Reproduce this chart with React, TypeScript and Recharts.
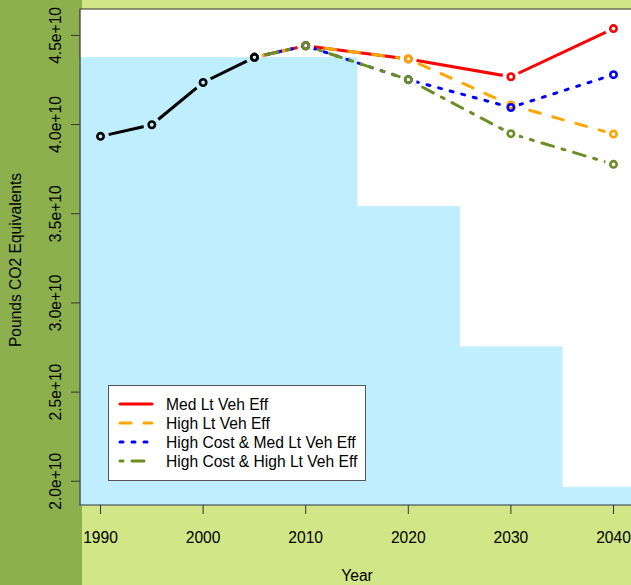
import React from 'react';
import {
  LineChart, Line, XAxis, YAxis, ReferenceArea, Legend, Customized,
} from 'recharts';

// ---------------- data ----------------
const years = [1990, 1995, 2000, 2005, 2010, 2020, 2030, 2040];
const historical = [3.934e10, 3.999e10, 4.236e10, 4.377e10, null, null, null, null];
const medLtVehEff = [null, null, null, 4.377e10, 4.442e10, 4.368e10, 4.268e10, 4.538e10];
const highLtVehEff = [null, null, null, 4.377e10, 4.442e10, 4.368e10, 4.11e10, 3.947e10];
const highCostMedLtVehEff = [null, null, null, 4.377e10, 4.442e10, 4.252e10, 4.096e10, 4.28e10];
const highCostHighLtVehEff = [null, null, null, 4.377e10, 4.442e10, 4.252e10, 3.949e10, 3.777e10];

// target steps (light blue)
const stepStart = [1988, 2015, 2025, 2035];
const stepEnd = [2015, 2025, 2035, 2042];
const stepLevel = [4.377e10, 3.541e10, 2.754e10, 1.967e10];

const xTicks = [1990, 2000, 2010, 2020, 2030, 2040];
const yTicks = [2.0e10, 2.5e10, 3.0e10, 3.5e10, 4.0e10, 4.5e10];
const X_DOMAIN: [number, number] = [1988, 2042];
const Y_DOMAIN: [number, number] = [1.867e10, 4.648e10];

const seriesNames = [
  'Med Lt Veh Eff',
  'High Lt Veh Eff',
  'High Cost & Med Lt Veh Eff',
  'High Cost & High Lt Veh Eff',
];
const seriesKeys = ['med', 'high', 'hcMed', 'hcHigh'];
const seriesColors = ['#FF0000', '#FFA500', '#0000FF', '#6B8E23'];
const seriesDash = [undefined, '11 13', '3 9', '3 9 12 9'];
const seriesValues = [medLtVehEff, highLtVehEff, highCostMedLtVehEff, highCostHighLtVehEff];

// ---------------- styling ----------------
const W = 631;
const H = 585;
const FONT = "'Liberation Sans', Arial, Helvetica, sans-serif";
const FS = 15.6;
const BG_LIGHT = '#d1e687';
const BG_DARK = '#8bb04d';
const PLOT_BLUE = '#BFEFFF';
const BORDER = '#333333';
const GAP_R = 8.5;

const data = years.map((year, i) => ({
  year,
  hist: historical[i],
  med: medLtVehEff[i],
  high: highLtVehEff[i],
  hcMed: highCostMedLtVehEff[i],
  hcHigh: highCostHighLtVehEff[i],
}));

const makeDot = (key: string, color: string) => (props: any) => {
  const { cx, cy, index, value } = props;
  if (cx == null || cy == null || value == null || isNaN(cx) || isNaN(cy)) {
    return <g key={`d-${key}-${index}`} />;
  }
  return (
    <g key={`d-${key}-${index}`}>
      <defs>
        <circle id={`gap-${key}-${index}`} cx={cx} cy={cy} r={GAP_R} fill="#000" />
      </defs>
      <circle cx={cx} cy={cy} r={3.2} fill="none" stroke={color} strokeWidth={2.6} />
    </g>
  );
};

const allKeys = [...seriesKeys, 'hist'];
const allValues = [...seriesValues, historical];

const Masks = () => (
  <defs>
    {allKeys.map((k, si) => (
      <mask key={k} id={`gm-${k}`} maskUnits="userSpaceOnUse" x={0} y={0} width={W} height={H}>
        <rect x={0} y={0} width={W} height={H} fill="#fff" />
        {allValues[si].map((v, i) => (v == null ? null : <use key={i} href={`#gap-${k}-${i}`} />))}
      </mask>
    ))}
  </defs>
);

const css = allKeys.map((k) => `.ser-${k} .recharts-line-curve { mask: url(#gm-${k}); }`).join('\n');

const XTick = (p: any) => (
  <text x={p.x} y={p.y} dy={27} textAnchor="middle" fontSize={FS} fontFamily={FONT} fill="#000">
    {p.payload.value}
  </text>
);

const YTick = (p: any) => {
  const x = p.x - 8;
  const label = (p.payload.value / 1e10).toFixed(1) + 'e+10';
  return (
    <text x={x} y={p.y} transform={`rotate(-90 ${x} ${p.y})`} textAnchor="middle" fontSize={FS} fontFamily={FONT} fill="#000">
      {label}
    </text>
  );
};

const LegendBox = () => {
  const rows = [19, 38, 57, 76];
  return (
    <svg width={258} height={96} style={{ display: 'block' }}>
      <rect x={0.5} y={0.5} width={257} height={95} fill="#fff" stroke="#555" strokeWidth={1} />
      {seriesNames.map((n, i) => (
        <g key={n}>
          <line x1={12} x2={44} y1={rows[i]} y2={rows[i]} stroke={seriesColors[i]} strokeWidth={3}
            strokeDasharray={seriesDash[i]} strokeLinecap="round" />
          <text x={58} y={rows[i] + 5.5} fontSize={FS} fontFamily={FONT} fill="#000">{n}</text>
        </g>
      ))}
    </svg>
  );
};

export default function App() {
  return (
    <div style={{ position: 'absolute', left: 0, top: 0, width: W, height: H, background: BG_LIGHT, overflow: 'hidden' }}>
      <style>{css}</style>
      <div style={{ position: 'absolute', left: 0, top: 0, width: 82, height: H, background: BG_DARK }} />
      <div style={{ position: 'absolute', left: 0, top: 0 }}>
        <LineChart width={W} height={H} data={data} margin={{ top: 9, right: -3, bottom: 0, left: 0 }}>
          <XAxis
            dataKey="year"
            type="number"
            domain={X_DOMAIN}
            ticks={xTicks}
            height={80}
            tickSize={9}
            tickMargin={2}
            axisLine={false}
            tickLine={{ stroke: BORDER }}
            tick={<XTick />}
            label={{
              content: (lp: any) => {
                const vb = lp.viewBox || { x: 80, y: 505, width: 554 };
                return (
                  <text x={vb.x + vb.width / 2} y={581} textAnchor="middle" fontSize={FS} fontFamily={FONT} fill="#000">Year</text>
                );
              },
            }}
          />
          <YAxis
            type="number"
            domain={Y_DOMAIN}
            ticks={yTicks}
            width={80}
            tickSize={9}
            tickMargin={2}
            axisLine={false}
            tickLine={{ stroke: BORDER }}
            tick={<YTick />}
            label={{
              content: (lp: any) => {
                const vb = lp.viewBox || { x: 0, y: 9, height: 496 };
                const cy = vb.y + vb.height / 2 + 3;
                return (
                  <text x={21} y={cy} transform={`rotate(-90 21 ${cy})`} textAnchor="middle" fontSize={FS} fontFamily={FONT} fill="#000">
                    Pounds CO2 Equivalents
                  </text>
                );
              },
            }}
          />
          <ReferenceArea x1={X_DOMAIN[0]} x2={X_DOMAIN[1]} y1={Y_DOMAIN[0]} y2={Y_DOMAIN[1]} fill="#fff" fillOpacity={1} stroke="none" />
          {stepLevel.map((lvl, i) => (
            <ReferenceArea key={i} x1={stepStart[i]} x2={stepEnd[i]} y1={Y_DOMAIN[0]} y2={lvl}
              fill={PLOT_BLUE} fillOpacity={1} stroke={PLOT_BLUE} strokeWidth={0.8} />
          ))}
          <ReferenceArea x1={X_DOMAIN[0]} x2={X_DOMAIN[1]} y1={Y_DOMAIN[0]} y2={Y_DOMAIN[1]} fill="none" stroke={BORDER} strokeWidth={1.2} />
          <Customized component={Masks} />
          {seriesKeys.map((k, i) => (
            <Line
              key={k}
              className={`ser-${k}`}
              dataKey={k}
              name={seriesNames[i]}
              stroke={seriesColors[i]}
              strokeWidth={3}
              strokeDasharray={seriesDash[i]}
              strokeLinecap="round"
              dot={makeDot(k, seriesColors[i])}
              activeDot={false}
              isAnimationActive={false}
              legendType="none"
            />
          ))}
          <Line
            className="ser-hist"
            dataKey="hist"
            stroke="#000"
            strokeWidth={3}
            strokeLinecap="round"
            dot={makeDot('hist', '#000')}
            activeDot={false}
            isAnimationActive={false}
            legendType="none"
          />
          <Legend
            layout="vertical"
            align="center"
            verticalAlign="middle"
            content={() => <LegendBox />}
            wrapperStyle={{ position: 'absolute', left: 108, top: 385, width: 258, height: 96, margin: 0, padding: 0 }}
          />
        </LineChart>
      </div>
    </div>
  );
}
